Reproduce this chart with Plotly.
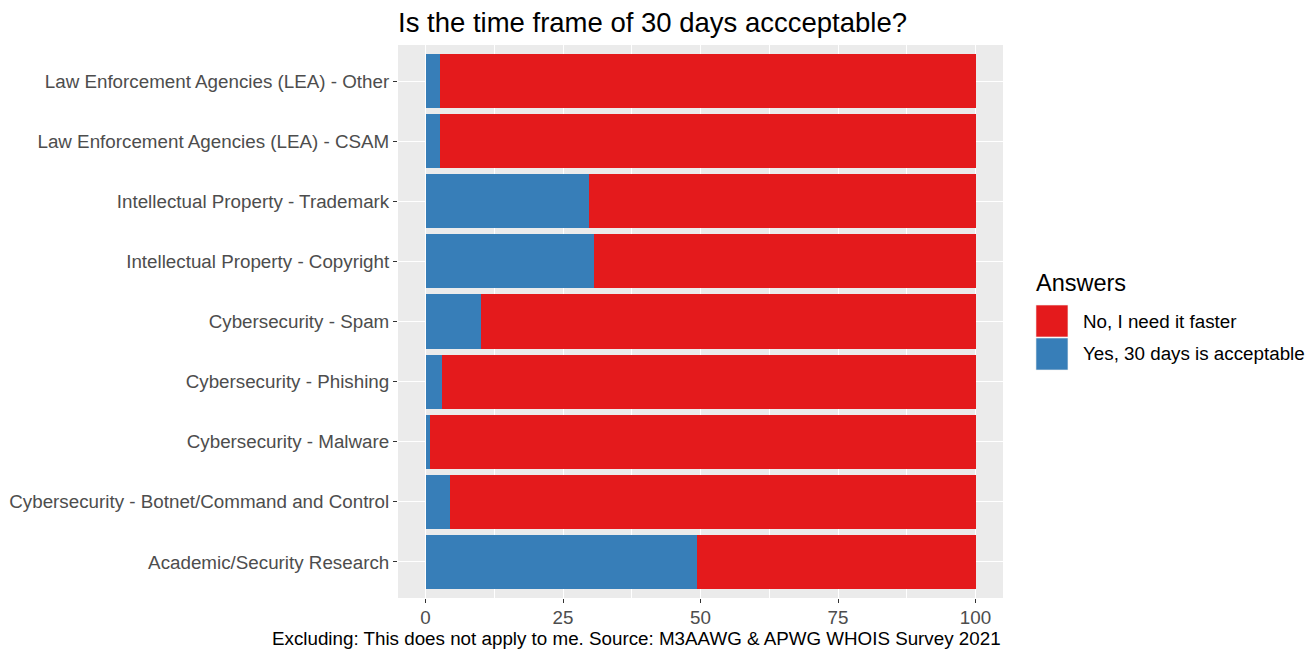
import plotly.graph_objects as go

categories = [
    "Academic/Security Research",
    "Cybersecurity - Botnet/Command and Control",
    "Cybersecurity - Malware",
    "Cybersecurity - Phishing",
    "Cybersecurity - Spam",
    "Intellectual Property - Copyright",
    "Intellectual Property - Trademark",
    "Law Enforcement Agencies (LEA) - CSAM",
    "Law Enforcement Agencies (LEA) - Other",
]
yes_values = [49.4, 4.4, 0.8, 3.0, 10.1, 30.7, 29.8, 2.6, 2.6]
no_values = [50.6, 95.6, 99.2, 97.0, 89.9, 69.3, 70.2, 97.4, 97.4]
x_ticks = [0, 25, 50, 75, 100]

series_names = ["No, I need it faster", "Yes, 30 days is acceptable"]
RED = "#E41A1C"
BLUE = "#377EB8"
FONT = "Liberation Sans, Arial, sans-serif"

fig = go.Figure()
fig.add_trace(go.Bar(y=categories, x=yes_values, orientation="h", name=series_names[1],
                     marker=dict(color=BLUE, line=dict(width=0)), width=0.9, showlegend=False))
fig.add_trace(go.Bar(y=categories, x=no_values, orientation="h", name=series_names[0],
                     marker=dict(color=RED, line=dict(width=0)), width=0.9, showlegend=False))

# ggplot-style legend
legend_x0, legend_x1 = 1.0545, 1.1074
keys = [(series_names[0], RED, 0.472, 0.5298), (series_names[1], BLUE, 0.4123, 0.4702)]
for label, col, y0, y1 in keys:
    fig.add_shape(type="rect", xref="paper", yref="paper", x0=legend_x0, x1=legend_x1,
                  y0=y0, y1=y1, fillcolor=col, line=dict(width=0.6, color="#F2F2F2"))
    fig.add_annotation(xref="paper", yref="paper", x=1.129, y=(y0 + y1) / 2, text=label,
                       showarrow=False, xanchor="left", yanchor="middle",
                       font=dict(family=FONT, size=18.8, color="black"))
fig.add_annotation(xref="paper", yref="paper", x=legend_x0 - 0.003, y=0.5696, text="Answers",
                   showarrow=False, xanchor="left", yanchor="middle",
                   font=dict(family=FONT, size=23.5, color="black"))

fig.add_annotation(xref="paper", yref="paper", x=1.0, y=-0.073, text=
                   "Excluding: This does not apply to me. Source: M3AAWG & APWG WHOIS Survey 2021",
                   showarrow=False, xanchor="right", yanchor="middle",
                   font=dict(family=FONT, size=18.8, color="black"))

fig.update_layout(
    barmode="stack",
    width=1315, height=653,
    margin=dict(l=390, r=320, t=37, b=63, autoexpand=False),
    paper_bgcolor="white",
    plot_bgcolor="#EBEBEB",
    bargap=0.1,
    title=dict(text="Is the time frame of 30 days accceptable?", x=390 / 1315, xanchor="left",
               xref="container", y=1 - 14 / 653, yanchor="middle",
               font=dict(family=FONT, size=27.5, color="black")),
    font=dict(family=FONT),
)
fig.update_xaxes(range=[-5, 105], tickvals=x_ticks, ticktext=[str(v) for v in x_ticks],
                 showgrid=True, gridcolor="white", gridwidth=1.1,
                 minor=dict(dtick=12.5, tick0=0, showgrid=True, gridcolor="white", gridwidth=0.5),
                 ticks="outside", ticklen=4, tickcolor="#333333", tickwidth=1.1,
                 ticklabelstandoff=-2,
                 tickfont=dict(family=FONT, size=18.8, color="#4D4D4D"),
                 zeroline=False, showline=False, fixedrange=True, automargin=False)
fig.update_yaxes(type="category", categoryorder="array", categoryarray=categories,
                 range=[-0.6, 8.6], showgrid=True, gridcolor="white", gridwidth=1.1,
                 ticks="outside", ticklen=4, tickcolor="#333333", tickwidth=1.1,
                 tickfont=dict(family=FONT, size=18.8, color="#4D4D4D"),
                 zeroline=False, showline=False, fixedrange=True, automargin=False)

fig.write_html("out.html")
